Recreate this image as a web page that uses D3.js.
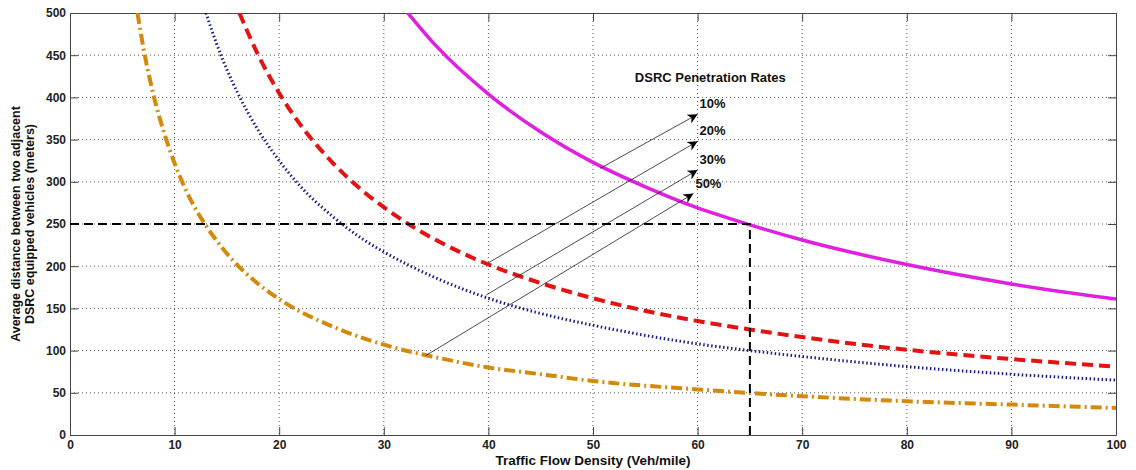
<!DOCTYPE html>
<html>
<head>
<meta charset="utf-8">
<script src="https://cdn.jsdelivr.net/npm/d3@7"></script>
<style>
  body { margin: 0; background: #fff; }
  svg { font-family: "Liberation Sans", Arial, sans-serif; }
  .axis path, .axis line { stroke: #444; }
  .axis text { font-size: 12px; font-weight: bold; fill: #222; }
</style>
</head>
<body>
<div id="chart"></div>
<script>
// values: density (veh/mile) -> distance (m)
const x10 = [32.3, 35, 40, 45, 50, 55, 60, 65, 70, 80, 90, 100];
const y10 = [500, 461, 404, 359, 323, 294, 269, 249, 231, 202, 179, 161];

const x20 = [16.2, 18, 20, 22, 25, 28, 30, 33, 35, 40, 45, 50, 60, 65, 70, 80, 90, 100];
const y20 = [500, 450, 405, 368, 324, 289, 270, 245, 231, 202, 180, 162, 135, 125, 116, 101, 90, 81];

const x30 = [13, 14, 15, 16, 18, 20, 22, 25, 28, 30, 35, 40, 45, 50, 60, 65, 70, 80, 90, 100];
const y30 = [500, 464, 433, 406, 361, 325, 295, 260, 232, 217, 186, 162, 144, 130, 108, 100, 93, 81, 72, 65];

const x50 = [6.45, 7, 8, 9, 10, 12, 13, 15, 18, 20, 25, 30, 35, 40, 45, 50, 60, 70, 80, 90, 100];
const y50 = [500, 460, 402, 358, 322, 268, 248, 215, 179, 161, 129, 107, 92, 80, 72, 64, 54, 46, 40, 36, 32];

const xTicks = [0, 10, 20, 30, 40, 50, 60, 70, 80, 90, 100];
const yTicks = [0, 50, 100, 150, 200, 250, 300, 350, 400, 450, 500];

// reference point
const refX = 65;
const refY = 250;

// annotation arrows
const arrowLabels = ['10%', '20%', '30%', '50%'];
const arrowFrom = [[50.7, 316], [40, 204], [39.8, 166], [34, 94]];
const arrowTo = [[60, 380], [60, 348], [60, 314], [59.6, 286]];

const w = 1136;
const h = 470;
const margin = { top: 13, right: 20, bottom: 35, left: 70 };
const iw = w - margin.left - margin.right;
const ih = h - margin.top - margin.bottom;

const svg = d3.select('#chart')
  .append('svg')
  .attr('width', w)
  .attr('height', h);

const defs = svg.append('defs');
defs.append('clipPath').attr('id', 'clip')
  .append('rect').attr('width', iw).attr('height', ih);
defs.append('marker')
  .attr('id', 'arrow')
  .attr('viewBox', '0 0 10 10')
  .attr('refX', 10).attr('refY', 5)
  .attr('markerWidth', 12).attr('markerHeight', 10)
  .attr('markerUnits', 'userSpaceOnUse')
  .attr('orient', 'auto')
  .append('path')
  .attr('d', 'M0,0 L10,5 L0,10 L3,5 Z')
  .attr('fill', '#000');

const g = svg.append('g')
  .attr('transform', `translate(${margin.left},${margin.top})`);

const xScale = d3.scaleLinear().domain([0, 100]).range([0, iw]);
const yScale = d3.scaleLinear().domain([0, 500]).range([ih, 0]);

// grid
g.append('g')
  .selectAll('line')
  .data(xTicks.slice(1, -1))
  .enter()
  .append('line')
  .attr('x1', d => xScale(d)).attr('x2', d => xScale(d))
  .attr('y1', 0).attr('y2', ih)
  .attr('stroke', '#555').attr('stroke-width', 1)
  .attr('stroke-dasharray', '1,3');

g.append('g')
  .selectAll('line')
  .data(yTicks.slice(1, -1))
  .enter()
  .append('line')
  .attr('y1', d => yScale(d)).attr('y2', d => yScale(d))
  .attr('x1', 0).attr('x2', iw)
  .attr('stroke', '#555').attr('stroke-width', 1)
  .attr('stroke-dasharray', '1,3');

// axes (box with inward ticks)
const xAxis = d3.axisBottom(xScale).tickValues(xTicks).tickSizeInner(-8).tickSizeOuter(0).tickPadding(5);
const yAxis = d3.axisLeft(yScale).tickValues(yTicks).tickSizeInner(-8).tickSizeOuter(0).tickPadding(4);

g.append('g').attr('class', 'axis').attr('transform', `translate(0,${ih})`).call(xAxis);
g.append('g').attr('class', 'axis').call(yAxis);
g.append('g').attr('class', 'axis')
  .call(d3.axisTop(xScale).tickValues(xTicks).tickSizeInner(-8).tickSizeOuter(0).tickFormat(''));
g.append('g').attr('class', 'axis').attr('transform', `translate(${iw},0)`)
  .call(d3.axisRight(yScale).tickValues(yTicks).tickSizeInner(-8).tickSizeOuter(0).tickFormat(''));

// curves
const line = d3.line()
  .x(d => xScale(d[0]))
  .y(d => yScale(d[1]))
  .curve(d3.curveMonotoneX);

const series = [
  { xs: x50, ys: y50, color: '#d4880c', width: 4, dash: '11,4,2,4' },
  { xs: x30, ys: y30, color: '#1c1c8c', width: 3, dash: '1.5,2.5' },
  { xs: x20, ys: y20, color: '#e41212', width: 4, dash: '11,6' },
  { xs: x10, ys: y10, color: '#e020e0', width: 3.5, dash: null },
];

const plot = g.append('g').attr('clip-path', 'url(#clip)');

series.forEach(s => {
  plot.append('path')
    .datum(s.xs.map((x, i) => [x, s.ys[i]]))
    .attr('d', line)
    .attr('fill', 'none')
    .attr('stroke', s.color)
    .attr('stroke-width', s.width)
    .attr('stroke-dasharray', s.dash);
});

// reference dashed lines
plot.append('path')
  .datum([[0, refY], [refX, refY], [refX, 0]])
  .attr('d', d3.line().x(d => xScale(d[0])).y(d => yScale(d[1])))
  .attr('fill', 'none')
  .attr('stroke', '#000')
  .attr('stroke-width', 2)
  .attr('stroke-dasharray', '9,5');

// arrows
arrowLabels.forEach((lab, i) => {
  g.append('line')
    .attr('x1', xScale(arrowFrom[i][0])).attr('y1', yScale(arrowFrom[i][1]))
    .attr('x2', xScale(arrowTo[i][0])).attr('y2', yScale(arrowTo[i][1]))
    .attr('stroke', '#000').attr('stroke-width', 0.7)
    .attr('marker-end', 'url(#arrow)');
  g.append('text')
    .attr('x', xScale(arrowTo[i][0]) + 2)
    .attr('y', yScale(arrowTo[i][1]) - 6)
    .attr('font-size', '13px')
    .attr('font-weight', 'bold')
    .attr('fill', '#111')
    .text(lab);
});

g.append('text')
  .attr('x', xScale(54))
  .attr('y', yScale(418))
  .attr('font-size', '13px')
  .attr('font-weight', 'bold')
  .attr('fill', '#111')
  .text('DSRC Penetration Rates');

// axis titles
svg.append('text')
  .attr('x', margin.left + xScale(50))
  .attr('y', h - 5)
  .attr('text-anchor', 'middle')
  .attr('font-size', '13.5px')
  .attr('font-weight', 'bold')
  .attr('fill', '#111')
  .text('Traffic Flow Density (Veh/mile)');

const yLab = svg.append('text')
  .attr('transform', `translate(20,${margin.top + ih / 2}) rotate(-90)`)
  .attr('text-anchor', 'middle')
  .attr('font-size', '12.5px')
  .attr('font-weight', 'bold')
  .attr('fill', '#111');
yLab.append('tspan').attr('x', 0).attr('dy', 0).text('Average distance between two adjacent');
yLab.append('tspan').attr('x', 0).attr('dy', 14).text('DSRC equipped vehicles (meters)');
</script>
</body>
</html>
